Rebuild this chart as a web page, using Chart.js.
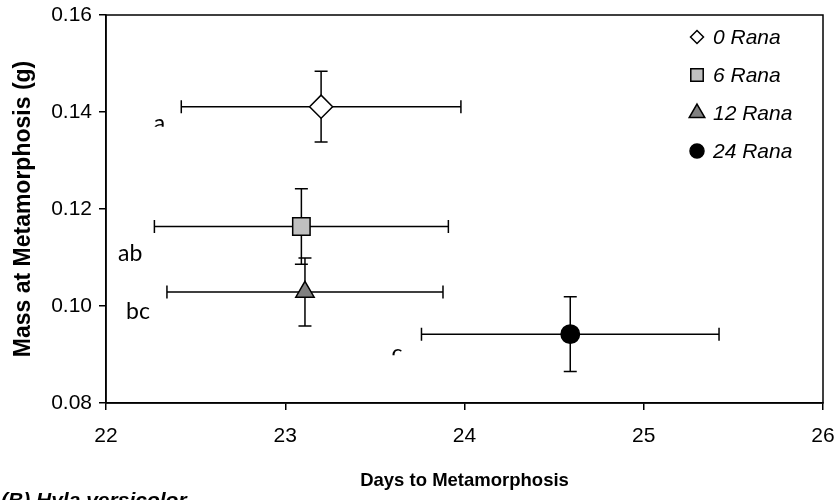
<!DOCTYPE html>
<html><head><meta charset="utf-8">
<script src="https://cdn.jsdelivr.net/npm/chart.js@4.4.0/dist/chart.umd.min.js"></script>
<style>html,body{margin:0;padding:0;background:#fff;} #wrap{width:837px;height:500px;position:relative;}</style>
</head><body><div id="wrap"><canvas id="c"></canvas></div>
<script>
// ---- data ----
const seriesNames = ['0 Rana', '6 Rana', '12 Rana', '24 Rana'];
const daysMean = [23.20, 23.09, 23.11, 24.59];
const daysErr  = [0.78, 0.82, 0.77, 0.83];
const massMean = [0.1411, 0.1164, 0.1029, 0.0942];
const massErr  = [0.0073, 0.0078, 0.0070, 0.0077];
const groupLetters = ['a', 'ab', 'bc', 'c'];
const xTicks = [22, 23, 24, 25, 26];
const yTicks = [0.08, 0.10, 0.12, 0.14, 0.16];
const xTitle = 'Days to Metamorphosis';
const yTitle = 'Mass at Metamorphosis (g)';
const panelLabel = '(B) Hyla versicolor';

// ---- styles ----
const pStyles = ['rectRot', 'rect', 'triangle', 'circle'];
const pFills = ['#ffffff', '#c0c0c0', '#808080', '#000000'];
const pRadius = [11.5, 12.3, 10.6, 9.2];
const legRadius = [6.5, 8.8, 9, 7];
// letter placement relative to left end of the horizontal error bar (px)
const letterOff = [{dx:-16, dy:24, clip:20}, {dx:-12, dy:35}, {dx:-17, dy:26.6}, {dx:-19, dy:27, clip:21}];

Chart.defaults.color = '#000';
Chart.defaults.font.family = '"Liberation Sans", Arial, sans-serif';

const datasets = seriesNames.map((n, i) => ({
  label: n,
  data: [{x: daysMean[i], y: massMean[i]}],
  pointStyle: pStyles[i],
  pointRadius: pRadius[i],
  pointHoverRadius: pRadius[i],
  backgroundColor: pFills[i],
  borderColor: '#000',
  pointBorderWidth: 1.5,
  borderWidth: 1.5
}));

const errPlugin = {
  id: 'errbars',
  beforeDatasetsDraw(chart) {
    const {ctx, scales: {x, y}} = chart;
    ctx.save();
    ctx.strokeStyle = '#000';
    ctx.lineWidth = 1.5;
    const cap = 6.5;
    for (let i = 0; i < seriesNames.length; i++) {
      const px = x.getPixelForValue(daysMean[i]);
      const py = y.getPixelForValue(massMean[i]);
      const xl = x.getPixelForValue(daysMean[i] - daysErr[i]);
      const xr = x.getPixelForValue(daysMean[i] + daysErr[i]);
      const yt = y.getPixelForValue(massMean[i] + massErr[i]);
      const yb = y.getPixelForValue(massMean[i] - massErr[i]);
      ctx.beginPath();
      ctx.moveTo(xl, py); ctx.lineTo(xr, py);
      ctx.moveTo(xl, py - cap); ctx.lineTo(xl, py + cap);
      ctx.moveTo(xr, py - cap); ctx.lineTo(xr, py + cap);
      ctx.moveTo(px, yt); ctx.lineTo(px, yb);
      ctx.moveTo(px - cap, yt); ctx.lineTo(px + cap, yt);
      ctx.moveTo(px - cap, yb); ctx.lineTo(px + cap, yb);
      ctx.stroke();
    }
    ctx.restore();
  },
  afterDraw(chart) {
    const {ctx, chartArea: a, scales: {x, y}} = chart;
    ctx.save();
    // frame
    ctx.strokeStyle = '#000';
    ctx.lineWidth = 1.5;
    ctx.strokeRect(a.left, a.top, a.right - a.left, a.bottom - a.top);
    // legend
    const rowY = [37, 75, 113, 151];
    for (let i = 0; i < seriesNames.length; i++) {
      ctx.fillStyle = pFills[i];
      ctx.strokeStyle = '#000';
      ctx.lineWidth = 1.5;
      Chart.helpers.drawPoint(ctx, {pointStyle: pStyles[i], radius: legRadius[i], borderWidth: 1.5}, 697, rowY[i]);
      ctx.fillStyle = '#000';
      ctx.font = 'italic 21px "Liberation Sans", Arial, sans-serif';
      ctx.textAlign = 'left';
      ctx.textBaseline = 'middle';
      ctx.fillText(seriesNames[i], 713, rowY[i] + 1);
    }
    // significance letters
    ctx.font = '23px Lato, "Open Sans", sans-serif';
    ctx.textAlign = 'right';
    ctx.textBaseline = 'alphabetic';
    ctx.fillStyle = '#000';
    for (let i = 0; i < groupLetters.length; i++) {
      const xl = x.getPixelForValue(daysMean[i] - daysErr[i]);
      const py = y.getPixelForValue(massMean[i]);
      const o = letterOff[i];
      ctx.save();
      if (o.clip) { ctx.beginPath(); ctx.rect(0, 0, 837, py + o.clip); ctx.clip(); }
      ctx.fillText(groupLetters[i], xl + o.dx, py + o.dy);
      ctx.restore();
    }
    // panel label (cut off at the bottom edge)
    ctx.font = 'bold italic 21px "Liberation Sans", Arial, sans-serif';
    ctx.textAlign = 'left';
    ctx.fillText(panelLabel, 1, 507);
    ctx.restore();
  }
};

new Chart(document.getElementById('c'), {
  type: 'scatter',
  data: {datasets},
  options: {
    responsive: true,
    maintainAspectRatio: false,
    animation: false,
    events: [],
    layout: {padding: {left: 0, right: 14, top: 15, bottom: 0}},
    plugins: {legend: {display: false}, tooltip: {enabled: false}},
    scales: {
      x: {
        type: 'linear', min: 22, max: 26,
        afterFit(s) { s.height = 97; s.paddingLeft = 0; s.paddingRight = 0; },
        afterBuildTicks(s) { s.ticks = xTicks.map(v => ({value: v})); },
        ticks: {font: {size: 21}, padding: 14, callback: v => String(v), maxRotation: 0},
        grid: {drawOnChartArea: false, tickLength: 7, color: '#000', lineWidth: 1.5},
        border: {display: true, color: '#000', width: 1.5},
        title: {display: true, text: xTitle, font: {size: 18.5, weight: 'bold'}, padding: {top: 0, bottom: 8}}
      },
      y: {
        type: 'linear', min: 0.08, max: 0.16,
        afterFit(s) { s.width = 106; s.paddingTop = 0; s.paddingBottom = 0; },
        afterBuildTicks(s) { s.ticks = yTicks.map(v => ({value: v})); },
        ticks: {font: {size: 21}, padding: 7, callback: v => v.toFixed(2)},
        grid: {drawOnChartArea: false, tickLength: 7, color: '#000', lineWidth: 1.5},
        border: {display: true, color: '#000', width: 1.5},
        title: {display: true, text: yTitle, font: {size: 23, weight: 'bold'}, padding: {top: 10, bottom: 0}}
      }
    }
  },
  plugins: [errPlugin]
});
</script></body></html>
